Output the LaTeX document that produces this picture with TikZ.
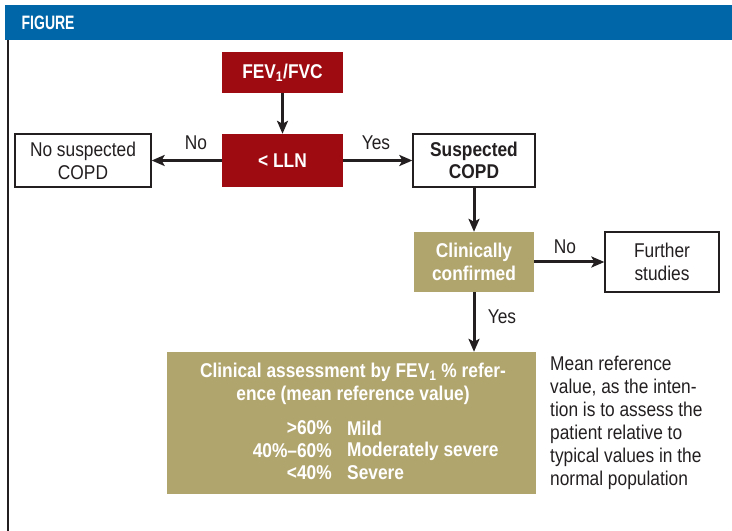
\documentclass[tikz,border=0pt]{standalone}
\usepackage{fontspec}
\setmainfont{Liberation Sans}[FakeStretch=0.87]
\newfontfamily\hdrfont{Liberation Sans}[FakeStretch=0.72]
\usetikzlibrary{arrows.meta}
\definecolor{hdrblue}{RGB}{0,102,168}
\definecolor{boxred}{RGB}{158,12,18}
\definecolor{khaki}{RGB}{177,165,110}
\definecolor{ink}{RGB}{35,31,32}
\begin{document}
\begin{tikzpicture}[x=1bp,y=-1bp,
  redbox/.style={fill=boxred, text=white, font=\bfseries\fontsize{20}{22.5}\selectfont, inner sep=0pt, align=center},
  khakibox/.style={fill=khaki, text=white, font=\bfseries\fontsize{20}{22.5}\selectfont, inner sep=0pt, align=center},
  whitebox/.style={draw=ink, line width=1.3bp, fill=white, text=ink, font=\fontsize{20}{23}\selectfont, inner sep=0pt, align=center},
  arr/.style={draw=ink, line width=3bp, -{Stealth[length=13bp,width=11bp,inset=3bp]}},
  lbl/.style={font=\fontsize{20}{23}\selectfont, text=ink, inner sep=0pt},
  wtxt/.style={text=white, font=\bfseries\fontsize{20}{23}\selectfont, inner sep=0pt}
]
\useasboundingbox (0,0) rectangle (732,531);
\fill[hdrblue] (5,5) rectangle (732,40);
\node[anchor=west, text=white, font=\hdrfont\bfseries\fontsize{19.5}{21}\selectfont, inner sep=0pt] (fig) at (21.5,22.5) {FIGURE};
\draw[ink, line width=2bp] (7.7,40) -- (7.7,531);

\node[redbox, minimum width=121bp, minimum height=41bp] (fev) at (282.5,72.5) {FEV\textsubscript{1}/FVC};
\node[redbox, minimum width=121bp, minimum height=53bp] (lln) at (282.5,160.5) {< LLN};
\node[whitebox, minimum width=136bp, minimum height=53bp] (nosusp) at (83,160.5) {No suspected\\COPD};
\node[whitebox, minimum width=122bp, minimum height=53bp, font=\bfseries\fontsize{20}{22}\selectfont] (susp) at (474,160.5) {Suspected\\COPD};
\node[khakibox, minimum width=120bp, minimum height=60bp] (clin) at (474,262) {Clinically\\confirmed};
\node[whitebox, minimum width=114bp, minimum height=60bp] (further) at (662,262) {Further\\studies};
\node[fill=khaki, minimum width=369bp, minimum height=142bp, inner sep=0pt] (assess) at (351.5,423) {};

\node[wtxt, align=center] (atitle) at (353,383.5) {Clinical assessment by FEV\textsubscript{1} \% refer-\\ence (mean reference value)};
\node[wtxt, anchor=east] (p1) at (332,428) {>60\%};
\node[wtxt, anchor=east] (p2) at (332,451) {40\%–60\%};
\node[wtxt, anchor=east] (p3) at (332,473) {<40\%};
\node[wtxt, anchor=west] (s1) at (347,428) {Mild};
\node[wtxt, anchor=west] (s2) at (347,451) {Moderately severe};
\node[wtxt, anchor=west] (s3) at (347,473) {Severe};

\node[anchor=north west, align=left, inner sep=0pt, font=\fontsize{20}{23}\selectfont, text=ink] (note) at (550,356) {Mean reference\\value, as the inten-\\tion is to assess the\\patient relative to\\typical values in the\\normal population};

\draw[arr] (fev) -- (lln);
\draw[arr] (lln) -- (nosusp);
\draw[arr] (lln) -- (susp);
\draw[arr] (susp) -- (clin);
\draw[arr] (clin) -- (further);
\draw[arr] (clin.south) -- (clin.south |- assess.north);

\node[lbl] (lno) at (196,143) {No};
\node[lbl] (lyes) at (376,143) {Yes};
\node[lbl] (cno) at (565,247) {No};
\node[lbl] (cyes) at (502,317) {Yes};
\end{tikzpicture}
\end{document}
